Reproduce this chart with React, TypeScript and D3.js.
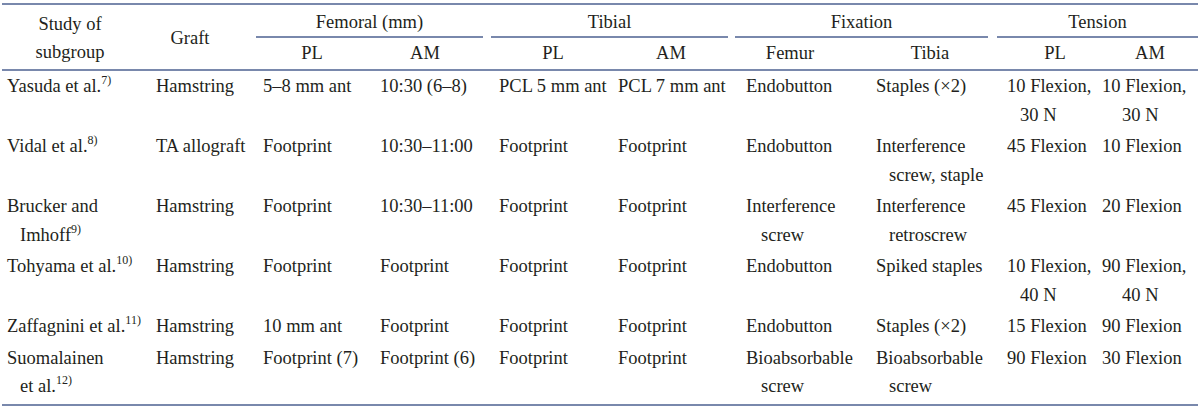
import { useEffect } from 'react';
import * as d3 from 'd3';

// table content, one array per column (each cell = list of lines)
const studies = [
  ['Yasuda et al.'],
  ['Vidal et al.'],
  ['Brucker and', 'Imhoff'],
  ['Tohyama et al.'],
  ['Zaffagnini et al.'],
  ['Suomalainen', 'et al.'],
];
const refs = ['7)', '8)', '9)', '10)', '11)', '12)'];
const grafts = [['Hamstring'], ['TA allograft'], ['Hamstring'], ['Hamstring'], ['Hamstring'], ['Hamstring']];
const femoralPL = [['5–8 mm ant'], ['Footprint'], ['Footprint'], ['Footprint'], ['10 mm ant'], ['Footprint (7)']];
const femoralAM = [['10:30 (6–8)'], ['10:30–11:00'], ['10:30–11:00'], ['Footprint'], ['Footprint'], ['Footprint (6)']];
const tibialPL = [['PCL 5 mm ant'], ['Footprint'], ['Footprint'], ['Footprint'], ['Footprint'], ['Footprint']];
const tibialAM = [['PCL 7 mm ant'], ['Footprint'], ['Footprint'], ['Footprint'], ['Footprint'], ['Footprint']];
const fixFemur = [['Endobutton'], ['Endobutton'], ['Interference', 'screw'], ['Endobutton'], ['Endobutton'], ['Bioabsorbable', 'screw']];
const fixTibia = [['Staples (×2)'], ['Interference', 'screw, staple'], ['Interference', 'retroscrew'], ['Spiked staples'], ['Staples (×2)'], ['Bioabsorbable', 'screw']];
const tensionPL = [['10 Flexion,', '30 N'], ['45 Flexion'], ['45 Flexion'], ['10 Flexion,', '40 N'], ['15 Flexion'], ['90 Flexion']];
const tensionAM = [['10 Flexion,', '30 N'], ['10 Flexion'], ['20 Flexion'], ['90 Flexion,', '40 N'], ['90 Flexion'], ['30 Flexion']];

const groupTitles = ['Femoral (mm)', 'Tibial', 'Fixation', 'Tension'];
const subTitles = ['PL', 'AM', 'PL', 'AM', 'Femur', 'Tibia', 'PL', 'AM'];

const columns = [studies, grafts, femoralPL, femoralAM, tibialPL, tibialAM, fixFemur, fixTibia, tensionPL, tensionAM];

// layout
const W = 1200, H = 411;
const colLeft = [7, 156, 263, 380, 499, 618, 746, 876, 1007, 1102];
const colIndent = [13, 13, 13, 13, 13, 13, 15, 13, 13, 20];
const subCenter = [312, 425, 553, 671, 790, 930, 1055, 1150];
const groupSpan: [number, number][] = [[256, 483], [491, 728], [735, 988], [997, 1198]];
const LINE = 28.5, ROW_PAD = 3, HEAD_BOTTOM = 70;
const FONT = "'Liberation Serif', serif";
const INK = '#231f20';
const RULE = '#4d6190';

export default function App() {
  useEffect(() => { document.body.style.margin = '0'; }, []);

  const nLines = studies.map((_, i) => d3.max(columns, c => c[i].length) as number);
  const heights = nLines.map(n => n * LINE + ROW_PAD);
  const tops = [HEAD_BOTTOM, ...Array.from(d3.cumsum(heights), s => HEAD_BOTTOM + s)];
  const bottom = tops[tops.length - 1] + 3.5;

  return (
    <svg width={W} height={H} style={{ display: 'block', fontFamily: FONT, fontSize: 18.5 }} fill={INK}>
      {/* rules */}
      <line x1={2} x2={1198} y1={4} y2={4} stroke={RULE} strokeWidth={1.5} />
      <line x1={2} x2={1198} y1={HEAD_BOTTOM} y2={HEAD_BOTTOM} stroke={RULE} strokeWidth={1.5} />
      <line x1={2} x2={1198} y1={bottom} y2={bottom} stroke={RULE} strokeWidth={1.5} />
      {groupSpan.map(([a, b], i) => (
        <line key={i} x1={a} x2={b} y1={37} y2={37} stroke={RULE} strokeWidth={1.3} />
      ))}

      {/* header */}
      <text x={70} y={30} textAnchor="middle">Study of</text>
      <text x={70} y={58} textAnchor="middle">subgroup</text>
      <text x={190} y={44} textAnchor="middle">Graft</text>
      {groupTitles.map((t, i) => (
        <text key={t} x={(groupSpan[i][0] + groupSpan[i][1]) / 2} y={28} textAnchor="middle">{t}</text>
      ))}
      {subTitles.map((t, i) => (
        <text key={i} x={subCenter[i]} y={59} textAnchor="middle">{t}</text>
      ))}

      {/* body */}
      {columns.map((col, c) => col.map((cell, r) => cell.map((line, k) => (
        <text key={`${c}-${r}-${k}`} x={colLeft[c] + (k > 0 ? colIndent[c] : 0)} y={tops[r] + 22 + k * LINE}>
          {line}
          {c === 0 && k === cell.length - 1 && (
            <tspan fontSize={12} dy={-8}>{refs[r]}</tspan>
          )}
        </text>
      ))))}
    </svg>
  );
}
